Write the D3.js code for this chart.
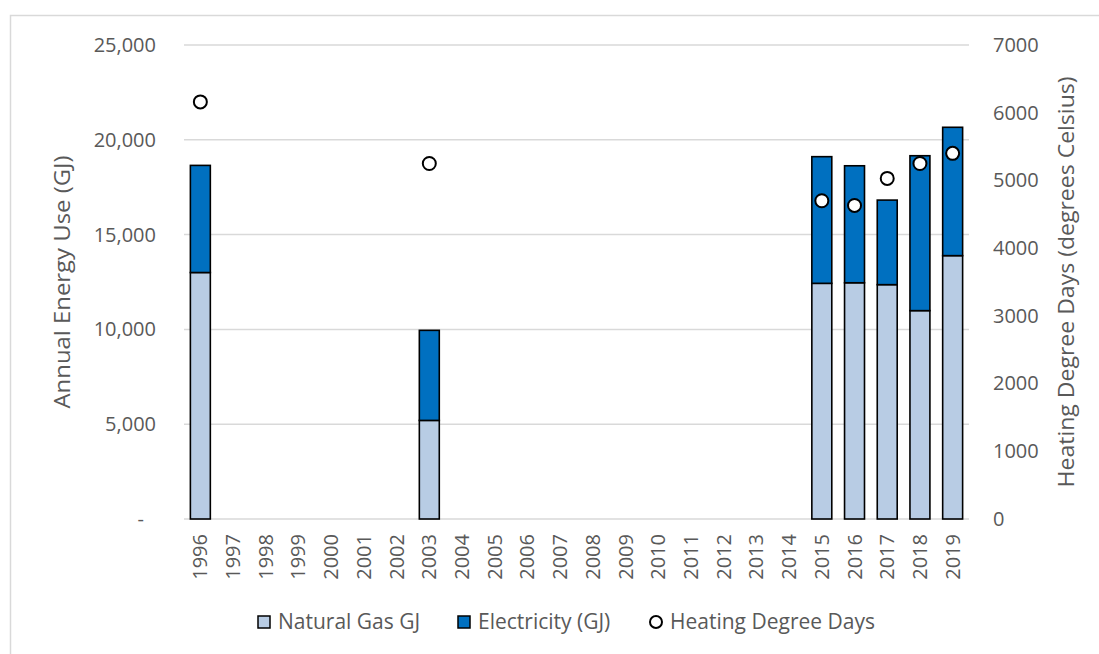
<!DOCTYPE html>
<html>
<head>
<meta charset="utf-8">
<script src="https://cdn.jsdelivr.net/npm/d3@7"></script>
<style>
  html, body { margin: 0; padding: 0; background: #fff; }
  svg { display: block; }
  text { font-family: "Open Sans", sans-serif; fill: #595959; }
</style>
</head>
<body>
<svg id="chart" width="1099" height="654"></svg>
<script>
const years = ["1996","1997","1998","1999","2000","2001","2002","2003","2004","2005","2006","2007","2008","2009","2010","2011","2012","2013","2014","2015","2016","2017","2018","2019"];
const naturalGas = [13000,null,null,null,null,null,null,5200,null,null,null,null,null,null,null,null,null,null,null,12430,12460,12360,10990,13890];
const electricity = [5650,null,null,null,null,null,null,4750,null,null,null,null,null,null,null,null,null,null,null,6680,6170,4460,8170,6770];
const hdd = [6160,null,null,null,null,null,null,5250,null,null,null,null,null,null,null,null,null,null,null,4700,4630,5030,5250,5400];
const leftTicks = [0,5000,10000,15000,20000,25000];
const rightTicks = [0,1000,2000,3000,4000,5000,6000,7000];
const seriesNames = ["Natural Gas GJ","Electricity (GJ)","Heating Degree Days"];

const svg = d3.select("#chart");
const W = 1099, H = 654;
const m = {left:184, right:W-969, top:45, bottom:H-519};
const iw = W - m.left - m.right, ih = H - m.top - m.bottom;

// outer frame
svg.append("rect").attr("x",10.5).attr("y",15.5).attr("width",W+20).attr("height",H+20)
  .attr("fill","none").attr("stroke","#d9d9d9").attr("stroke-width",1.5);

const g = svg.append("g").attr("transform",`translate(${m.left},${m.top})`);

const x = d3.scaleBand().domain(years).range([0,iw]).paddingInner(0.39).paddingOuter(0.195);
const yL = d3.scaleLinear().domain([0,25000]).range([ih,0]);
const yR = d3.scaleLinear().domain([0,7000]).range([ih,0]);

// gridlines
g.append("g").selectAll("line").data(leftTicks).join("line")
  .attr("x1",0).attr("x2",iw).attr("y1",d=>yL(d)).attr("y2",d=>yL(d))
  .attr("stroke","#d9d9d9").attr("stroke-width",1.5);

// left axis
const fmt = d3.format(",");
const axL = g.append("g").call(d3.axisLeft(yL).tickValues(leftTicks).tickSize(0).tickPadding(28)
  .tickFormat(d => d===0 ? "-" : fmt(d)));
axL.select(".domain").remove();
axL.selectAll("text").style("font-size","20px").attr("fill","#595959")
  .attr("dx", d => d===0 ? -12 : 0);

// right axis
const axR = g.append("g").attr("transform",`translate(${iw},0)`)
  .call(d3.axisRight(yR).tickValues(rightTicks).tickSize(0).tickPadding(24).tickFormat(d3.format("d")));
axR.select(".domain").remove();
axR.selectAll("text").style("font-size","20px").attr("fill","#595959");

// x axis
const axX = g.append("g").attr("transform",`translate(0,${ih})`)
  .call(d3.axisBottom(x).tickSize(0));
axX.select(".domain").remove();
axX.selectAll("text").style("font-size","20px").attr("fill","#595959")
  .attr("transform","rotate(-90)").attr("text-anchor","end")
  .attr("x",-15).attr("y",0).attr("dy","0.35em");

// bars
const rows = years.map((yr,i)=>({yr, gas:naturalGas[i], elec:electricity[i], hdd:hdd[i]}));
const barRows = rows.filter(r => r.gas != null);
g.append("g").selectAll("rect.gas").data(barRows).join("rect")
  .attr("x",d=>x(d.yr)).attr("width",x.bandwidth())
  .attr("y",d=>yL(d.gas)).attr("height",d=>yL(0)-yL(d.gas))
  .attr("fill","#b8cce4").attr("stroke","#000").attr("stroke-width",1.6);
g.append("g").selectAll("rect.elec").data(barRows).join("rect")
  .attr("x",d=>x(d.yr)).attr("width",x.bandwidth())
  .attr("y",d=>yL(d.gas+d.elec)).attr("height",d=>yL(d.gas)-yL(d.gas+d.elec))
  .attr("fill","#0070c0").attr("stroke","#000").attr("stroke-width",1.6);

// HDD points
g.append("g").selectAll("circle").data(rows.filter(r=>r.hdd!=null)).join("circle")
  .attr("cx",d=>x(d.yr)+x.bandwidth()/2).attr("cy",d=>yR(d.hdd)).attr("r",6.5)
  .attr("fill","#fff").attr("stroke","#000").attr("stroke-width",2);

// axis titles
svg.append("text").attr("transform",`translate(62,${m.top+ih/2}) rotate(-90)`)
  .attr("text-anchor","middle").attr("dy","0.35em").style("font-size","22px")
  .attr("textLength",253).attr("lengthAdjust","spacingAndGlyphs")
  .text("Annual Energy Use (GJ)");
svg.append("text").attr("transform",`translate(1066,${m.top+ih/2}) rotate(-90)`)
  .attr("text-anchor","middle").attr("dy","0.35em").style("font-size","22px")
  .attr("textLength",411).attr("lengthAdjust","spacingAndGlyphs")
  .text("Heating Degree Days (degrees Celsius)");

// legend
const leg = svg.append("g").attr("transform","translate(0,622)");
const legX = [258, 458, 650];
seriesNames.forEach((name,i)=>{
  const lg = leg.append("g").attr("transform",`translate(${legX[i]},0)`);
  if (i<2) {
    lg.append("rect").attr("x",0).attr("y",-6).attr("width",12).attr("height",12)
      .attr("fill", i===0 ? "#b8cce4" : "#0070c0").attr("stroke","#000").attr("stroke-width",1.5);
  } else {
    lg.append("circle").attr("cx",6).attr("cy",0).attr("r",6)
      .attr("fill","#fff").attr("stroke","#000").attr("stroke-width",2);
  }
  lg.append("text").attr("x",i===2?20:20).attr("y",0).attr("dy","0.35em")
    .style("font-size","21px").text(name);
});
</script>
</body>
</html>
